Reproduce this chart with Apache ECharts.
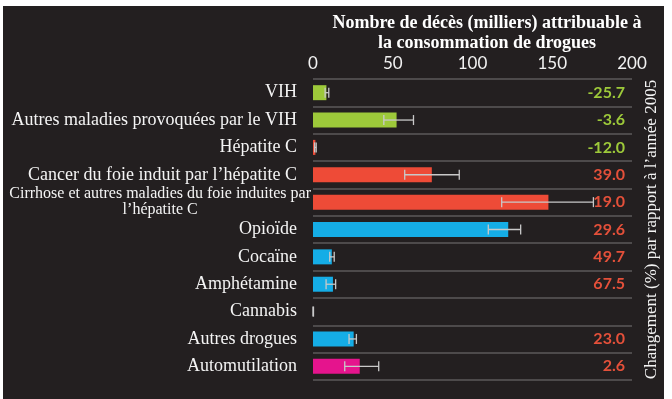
<!DOCTYPE html>
<html>
<head>
<meta charset="utf-8">
<script src="https://cdn.jsdelivr.net/npm/echarts@6/dist/echarts.min.js"></script>
<style>
  html, body { margin: 0; padding: 0; background: #fff; }
  #chart { position: absolute; left: 3px; top: 6px; width: 661px; height: 393px; }
</style>
</head>
<body>
<div id="chart"></div>
<script>
// 类别
const categories = [
  'VIH',
  'Autres maladies provoquées par le VIH',
  'Hépatite C',
  'Cancer du foie induit par l’hépatite C',
  'Cirrhose et autres maladies du foie induites par\nl’hépatite C',
  'Opioïde',
  'Cocaïne',
  'Amphétamine',
  'Cannabis',
  'Autres drogues',
  'Automutilation'
]
// groupe de chaque barre
const groups = ['vih', 'vih', 'hep', 'hep', 'hep', 'drug', 'drug', 'drug', 'drug', 'drug', 'self']
// décès (milliers)
const deaths = [8.4, 52.4, 1.5, 74.5, 147.6, 122.4, 11.8, 12.5, 0, 25.5, 29.3]
// intervalles d'incertitude
const errLow = [7.6, 44.4, 1.0, 57.5, 118.3, 109.9, 10.5, 8.2, 0, 22.6, 19.9]
const errHigh = [9.9, 63.0, 2.0, 91.7, 175.8, 130.2, 13.3, 14.2, 0.3, 27.2, 41.2]
// changement (%) par rapport à 2005
const changes = [-25.7, -3.6, -12.0, 39.0, 19.0, 29.6, 49.7, 67.5, null, 23.0, 2.6]
const xTicks = [0, 50, 100, 150, 200]

const groupColors = {
  vih: '#9dc93a',
  hep: '#ee4b37',
  drug: '#15ade6',
  self: '#e5148d'
}

const chart = echarts.init(document.getElementById('chart'), null, { renderer: 'canvas' })

chart.setOption({
  backgroundColor: '#231f20',
  animation: false,
  title: {
    text: 'Nombre de décès (milliers) attribuable à\nla consommation de drogues',
    left: 479,
    top: 2,
    textAlign: 'center',
    textStyle: {
      color: '#fff',
      fontFamily: 'Liberation Serif',
      fontWeight: 'bold',
      fontSize: 18,
      lineHeight: 20
    }
  },
  grid: { left: 310, right: 32, top: 73, bottom: 19, outerBoundsMode: 'none' },
  xAxis: {
    type: 'value',
    position: 'top',
    min: xTicks[0],
    max: xTicks[xTicks.length - 1],
    interval: xTicks[1] - xTicks[0],
    axisLine: { show: false },
    axisTick: { show: false },
    splitLine: { show: false },
    axisLabel: {
      color: '#f2f2f2',
      fontFamily: 'Lato',
      fontSize: 17,
      margin: 7
    }
  },
  yAxis: [{
    type: 'category',
    inverse: true,
    data: categories,
    axisLine: { show: false },
    axisTick: { show: false },
    splitLine: { show: true, lineStyle: { color: '#5c5a5a', width: 1.5 } },
    axisLabel: {
      color: '#f4f4f4',
      fontFamily: 'Liberation Serif',
      fontSize: 18,
      margin: 2,
      interval: 0,
      formatter: v => {
        if (v.indexOf('\n') >= 0) return v.split('\n').map(l => '{c|' + l + '}').join('\n')
        return '{a|' + v + '}'
      },
      rich: {
        a: { fontFamily: 'Liberation Serif', fontSize: 18, color: '#f4f4f4', padding: [0, 14, 0, 0] },
        c: { fontFamily: 'Liberation Serif', fontSize: 16, color: '#f4f4f4', align: 'center', lineHeight: 16 }
      }
    }
  }, {
    type: 'category',
    inverse: true,
    position: 'right',
    data: changes.map(c => ({
      value: c === null ? '' : c.toFixed(1),
      textStyle: { color: c < 0 ? '#9dc93a' : '#e4503a' }
    })),
    axisLine: { show: false },
    axisTick: { show: false },
    splitLine: { show: false },
    axisLabel: {
      inside: true,
      margin: 7,
      interval: 0,
      fontFamily: 'Lato',
      fontWeight: 'bold',
      fontSize: 16
    },
    name: 'Changement (%) par rapport à l’année 2005',
    nameLocation: 'middle',
    nameRotate: 90,
    nameGap: 11,
    nameTextStyle: {
      color: '#f4f4f4',
      fontFamily: 'Liberation Serif',
      fontSize: 17
    }
  }],
  series: [{
    type: 'bar',
    yAxisIndex: 0,
    barWidth: 15,
    data: deaths.map((d, i) => ({
      value: d,
      itemStyle: { color: groupColors[groups[i]] }
    }))
  }, {
    // barres d'erreur
    type: 'custom',
    yAxisIndex: 0,
    z: 5,
    data: categories.map((c, i) => [i, errLow[i], errHigh[i]]),
    encode: { y: 0, x: [1, 2] },
    renderItem: (params, api) => {
      const idx = api.value(0)
      const p1 = api.coord([api.value(1), idx])
      const p2 = api.coord([api.value(2), idx])
      const h = 5
      const style = { stroke: '#c9c9c9', lineWidth: 1.3 }
      return {
        type: 'group',
        children: [
          { type: 'line', shape: { x1: p1[0], y1: p1[1], x2: p2[0], y2: p2[1] }, style },
          { type: 'line', shape: { x1: p1[0], y1: p1[1] - h, x2: p1[0], y2: p1[1] + h }, style },
          { type: 'line', shape: { x1: p2[0], y1: p2[1] - h, x2: p2[0], y2: p2[1] + h }, style }
        ]
      }
    }
  }]
})
</script>
</body>
</html>
